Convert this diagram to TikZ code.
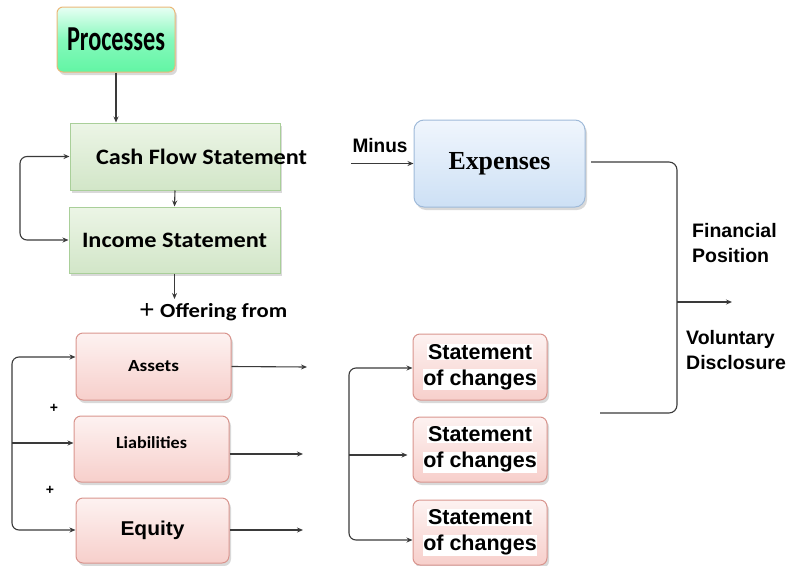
\documentclass[tikz,border=0pt]{standalone}
\usepackage{fontspec}
\usepackage{graphicx}
\usetikzlibrary{arrows.meta,shadows,calc}
\newfontfamily\calf{Carlito}
\newfontfamily\arif{Liberation Sans}
\newfontfamily\timf{Liberation Serif}
\newsavebox\fitbox
\newcommand\fitw[2]{\sbox\fitbox{#2}\pgfmathsetmacro\fitsx{#1/\the\wd\fitbox}\scalebox{\fitsx}[1]{\usebox\fitbox}}
\newcommand\hlw[1]{{\setlength\fboxsep{0.6pt}\colorbox{white}{#1}}}
\definecolor{procTop}{HTML}{E8FFF4}
\definecolor{procMid}{HTML}{86F9BC}
\definecolor{procBot}{HTML}{62F5A4}
\definecolor{procLine}{HTML}{EBB878}
\definecolor{grTop}{HTML}{ECF5E6}
\definecolor{grBot}{HTML}{D2E6C8}
\definecolor{grLine}{HTML}{A9CF99}
\definecolor{blTop}{HTML}{F0F6FD}
\definecolor{blBot}{HTML}{CDE0F5}
\definecolor{blLine}{HTML}{9FBAD9}
\definecolor{pkTop}{HTML}{FDF2F1}
\definecolor{pkBot}{HTML}{F7CFCB}
\definecolor{pkLine}{HTML}{D9958E}
\definecolor{conn}{HTML}{3A3A3A}
\begin{document}
\begin{tikzpicture}[x=1pt,y=-1pt,
  shadowed/.style={drop shadow={opacity=0.3,shadow xshift=2pt,shadow yshift=-3pt}},
  procbox/.style={draw=procLine,line width=1pt,rounded corners=6pt,top color=procTop,bottom color=procBot,middle color=procMid,shadowed,inner sep=0pt},
  grbox/.style={draw=grLine,line width=1pt,top color=grTop,bottom color=grBot,shadowed,inner sep=0pt},
  blbox/.style={draw=blLine,line width=1pt,rounded corners=10pt,top color=blTop,bottom color=blBot,shadowed,inner sep=0pt},
  pkbox/.style={draw=pkLine,line width=1pt,rounded corners=7pt,top color=pkTop,bottom color=pkBot,shadowed,inner sep=0pt},
  lbl/.style={inner sep=0pt,text=black},
  conline/.style={draw=conn,line width=1.1pt},
  arr/.style={conline,-{Stealth[length=6pt,width=5pt]}},
  barr/.style={conline,{Stealth[length=6pt,width=5pt]}-{Stealth[length=6pt,width=5pt]}}
]
\useasboundingbox (0,0) rectangle (795,565);

% boxes
\node[procbox,minimum width=118pt,minimum height=65pt] (proc) at (116,39.5)
  {\fontsize{35}{38}\calf\bfseries\fitw{98}{Processes}};
\node[grbox,minimum width=210pt,minimum height=67pt] (cfs) at (175,156.5) {};
\node[lbl] (cfst) at (201.5,157) {\fontsize{22}{26}\calf\bfseries\fitw{211}{Cash Flow Statement}};
\node[grbox,minimum width=211pt,minimum height=66pt] (inc) at (174.5,240)
  {\fontsize{22}{26}\calf\bfseries\fitw{185}{Income Statement}};
\node[blbox,minimum width=171pt,minimum height=87pt] (exp) at (499.5,163.5)
  {\fontsize{26}{30}\timf\bfseries\fitw{102}{Expenses}};
\node[pkbox,minimum width=155pt,minimum height=67pt] (assets) at (153.5,366.5)
  {\fontsize{17}{20}\calf\bfseries\fitw{51}{Assets}};
\node[pkbox,minimum width=155pt,minimum height=66pt] (liab) at (151.5,449) {};
\node[lbl] (liabt) at (151.5,443) {\fontsize{17}{20}\calf\bfseries\fitw{71}{Liabilities}};
\node[pkbox,minimum width=153pt,minimum height=65pt] (equity) at (152.5,530.5)
  {\fontsize{20}{24}\arif\bfseries\fitw{64}{Equity}};
\node[pkbox,minimum width=134pt,minimum height=66pt,align=center,font=\fontsize{21.5}{26}\arif\bfseries] (sc1) at (480,367)
  {\hlw{Statement}\\\hlw{of changes}};
\node[pkbox,minimum width=134pt,minimum height=65pt,align=center,font=\fontsize{21.5}{26}\arif\bfseries] (sc2) at (480,449.5)
  {\hlw{Statement}\\\hlw{of changes}};
\node[pkbox,minimum width=134pt,minimum height=65pt,align=center,font=\fontsize{21.5}{26}\arif\bfseries] (sc3) at (480,532.5)
  {\hlw{Statement}\\\hlw{of changes}};

% free texts
\node[lbl] (plus) at (147,311) {\fontsize{26}{28}\arif +};
\node[lbl,anchor=west] (offer) at (160,312) {\fontsize{20}{24}\calf\bfseries\fitw{127}{Offering from}};
\node[lbl] (minus) at (380,146) {\fontsize{19.5}{22}\arif\bfseries\fitw{55}{Minus}};
\node[lbl,anchor=west,align=left,font=\fontsize{19.5}{25.5}\arif\bfseries] (finpos) at (692,243) {Financial\\Position};
\node[lbl,anchor=west,align=left,font=\fontsize{19.5}{25.5}\arif\bfseries] (voldis) at (686,350) {Voluntary\\Disclosure};
\node[lbl] (plusA) at (54,408) {\fontsize{14}{16}\arif\bfseries +};
\node[lbl] (plusB) at (50,490) {\fontsize{14}{16}\arif\bfseries +};

% coordinates
\coordinate (lbx) at (20,200);
\coordinate (offa) at (174.5,299);
\coordinate (minA) at (351,163.5);
\coordinate (rbA) at (591,162);
\coordinate (rbx) at (677,302);
\coordinate (rbB) at (600,413);
\coordinate (fo) at (732,302);
\coordinate (lbA) at (12,357);
\coordinate (lbB) at (12,443);
\coordinate (lbC) at (12,530);
\coordinate (aA) at (307,367);
\coordinate (aB) at (303,454);
\coordinate (aC) at (303,530);
\coordinate (sA) at (349,368);
\coordinate (sB) at (349,455);
\coordinate (sC) at (349,540);

% connectors
\draw[arr] (proc.south) -- (proc.south |- cfs.north);
\draw[arr] (cfs.south) -- (inc.north);
\draw[barr,rounded corners=7pt] (cfs.west) -| (lbx) |- (inc.west);
\draw[arr] (inc.south) -- (offa);
\draw[arr] (minA) -- (exp.west);
\draw[conline,rounded corners=8pt] (rbA) -| (rbx) |- (rbB);
\draw[arr] (rbx) -- (fo);
\draw[barr,rounded corners=7pt] (assets.west |- lbA) -- (lbA) -- (lbC) -- (equity.west |- lbC);
\draw[arr] (lbB) -- (liab.west |- lbB);
\draw[arr] (assets.east) -- (aA);
\draw[arr] (liab.east |- aB) -- (aB);
\draw[arr] (equity.east |- aC) -- (aC);
\draw[barr,rounded corners=7pt] (sc1.west |- sA) -- (sA) -- (sC) -- (sc3.west |- sC);
\draw[arr] (sB) -- ($(sc2.west |- sB)+(-5,0)$);
\end{tikzpicture}
\end{document}
